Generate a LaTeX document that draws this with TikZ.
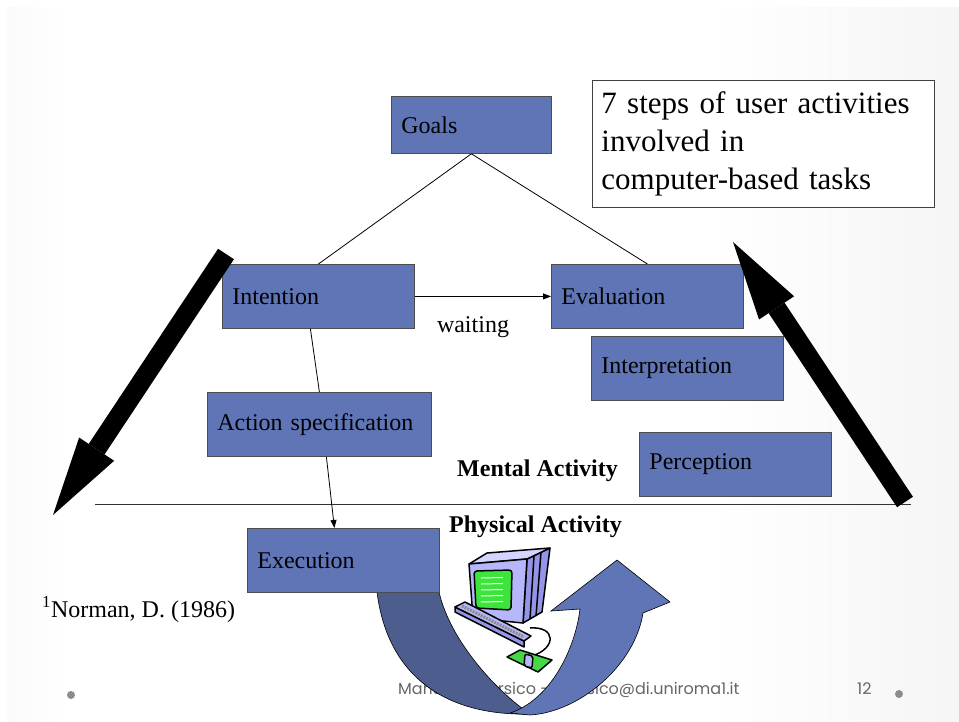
\documentclass[tikz,border=0pt]{standalone}
\usepackage{fontspec}
\setmainfont{Liberation Serif}
\newfontfamily\slidefont{Poppins}
\usetikzlibrary{calc,arrows.meta}

\definecolor{boxblue}{RGB}{96,117,181}
\definecolor{bandback}{RGB}{77,93,141}
\definecolor{lavender}{RGB}{182,182,250}
\definecolor{lavtop}{RGB}{212,212,255}
\definecolor{lavside}{RGB}{148,148,232}
\definecolor{screengreen}{RGB}{60,228,60}
\definecolor{padgreen}{RGB}{70,215,70}

\pgfdeclarehorizontalshading{slidebg}{100bp}{color(0bp)=(black!16); color(28bp)=(white);
  color(62bp)=(white); color(100bp)=(black!11)}

\tikzset{
    stepbox/.style={
    rectangle,draw=black!70,fill=boxblue,line width=0.8pt,anchor=north west,
    minimum height=64pt,inner xsep=10pt,inner ysep=0pt,text width=#1,align=left,
    font=\fontsize{24}{28}\selectfont
    },
    stepbox/.default=172pt,
    notebox/.style={
    rectangle,draw=black!75,fill=white,line width=0.8pt,anchor=north west,
    minimum height=127pt,inner xsep=9pt,inner ysep=0pt,text width=324pt,align=left,
    font=\fontsize{31}{38}\selectfont
    },
    plaintext/.style={
    inner sep=0pt,font=\fontsize{24}{28}\selectfont
    },
    footer/.style={
    inner sep=0pt,text=black!60,font=\slidefont\fontsize{16}{18}\selectfont
    },
    bullet/.style={
    circle,fill=black!45,inner sep=0pt,minimum size=8pt
    },
    bigarrow/.style={
    line width=19pt,-{Triangle[length=79pt,width=42pt,line width=0pt]}
    },
    uturn/.style={
    draw=black,line width=0.6pt
    },
    pcline/.style={
    draw=black,line width=1.5pt,line join=round
    },
}

\begin{document}
\begin{tikzpicture}[x=1pt,y=-1pt,>={Triangle[length=8pt,width=6pt]}]
   \useasboundingbox (0,0) rectangle (959,721);
   \shade[shading=slidebg] (7,7) rectangle (959,721);

   %footer
   \node[footer,anchor=base west] (author) at (398,694) {Maria De Marsico - marsico@di.uniroma1.it};
   \node[footer,anchor=base west] (pageno) at (857,694) {12};
   \node[bullet] (dotL) at (71,695) {};
   \node[bullet] (dotR) at (899,694) {};

   %u-turn arrow
   \filldraw[uturn,fill=bandback] (377,592) .. controls (388,680) and (450,716) .. (530,714)
      .. controls (495,690) and (450,640) .. (439,592) -- cycle;
   \filldraw[uturn,fill=boxblue] (510,713) .. controls (550,700) and (575,650) .. (580,609)
      -- (551,611) -- (617,560) -- (670,602) -- (643,613)
      .. controls (635,665) and (580,712) .. (530,715) -- cycle;

   %computer
   \filldraw[pcline,fill=lavside] (527,559) -- (550,548) -- (542,612) -- (523,623) -- cycle;
   \draw[pcline] (534,556) -- (530,619);
   \draw[pcline] (541,552) -- (536,616);
   \filldraw[pcline,fill=lavtop] (469,564) -- (487,553) -- (550,548) -- (527,559) -- cycle;
   \filldraw[pcline,fill=lavender] (469,564) -- (527,559) -- (523,623) -- (473,618) -- cycle;
   \filldraw[pcline,fill=screengreen,rounded corners=3pt] (474,571) -- (512,570) -- (511,610) -- (476,608) -- cycle;
   \foreach \y in {578,584,...,602}
      \draw[white,line width=1pt] (481,\y) -- (503,{\y-0.5});
   \draw[pcline] (530,628) .. controls (556,626) and (557,648) .. (532,656);
   \filldraw[pcline,fill=lavside] (455,607) -- (524,641) -- (524,647) -- (455,612) -- cycle;
   \filldraw[pcline,fill=lavender] (455,607) -- (465,602) -- (531,636) -- (524,641) -- cycle;
   \draw[black!45,line width=3pt,dash pattern=on 2pt off 1pt] (462,606) -- (524,637);
   \filldraw[pcline,fill=padgreen] (507,657) -- (520,650) -- (552,660) -- (538,672) -- cycle;
   \filldraw[pcline,fill=lavender,rounded corners=2pt] (525,654) -- (533,656) -- (532,668) -- (524,666) -- cycle;

   %steps
   \node[stepbox=140pt,minimum height=57pt] (goals) at (391,96) {Goals};
   \node[stepbox] (intention) at (222,264) {Intention};
   \node[stepbox] (evaluation) at (551,264) {Evaluation};
   \node[stepbox] (interpretation) at (591,336) {Interpretation};
   \node[stepbox=204pt] (actionspec) at (207,392) {Action specification};
   \node[stepbox] (perception) at (639,432) {Perception};
   \node[stepbox] (execution) at (247,528) {Execution};

   \node[notebox] (steps) at (592,80) {7 steps of user activities\\involved in\\computer-based tasks};

   %labels
   \node[plaintext,anchor=base] (waiting) at (473,332) {waiting};
   \node[plaintext,anchor=base west] (mental) at (457,476) {\textbf{Mental Activity}};
   \node[plaintext,anchor=base west] (physical) at (449,532) {\textbf{Physical Activity}};
   \node[plaintext,anchor=base west] (norman) at (42,617) {\textsuperscript{1}Norman, D. (1986)};

   \coordinate (divL) at (95,504);
   \coordinate (divR) at (911,504);
   \draw[line width=0.8pt,black!80] (divL) -- (divR);

   \path[line width=0.8pt]
    (goals.south) edge (intention.north)
                  edge (evaluation.north)
    (intention.east) edge[->] (evaluation.west)
    ([xshift=-8pt]intention.south) edge (actionspec.north)
    ([xshift=7pt]actionspec.south) edge[->] ([xshift=-9pt]execution.north);

   %big arrows
   \coordinate (tailL) at (226,254);
   \coordinate (tipL) at (53,515);
   \coordinate (tailR) at (905,502);
   \coordinate (tipR) at (733,242);
   \draw[bigarrow] (tailL) -- (tipL);
   \draw[bigarrow] (tailR) -- (tipR);
\end{tikzpicture}
\end{document}
